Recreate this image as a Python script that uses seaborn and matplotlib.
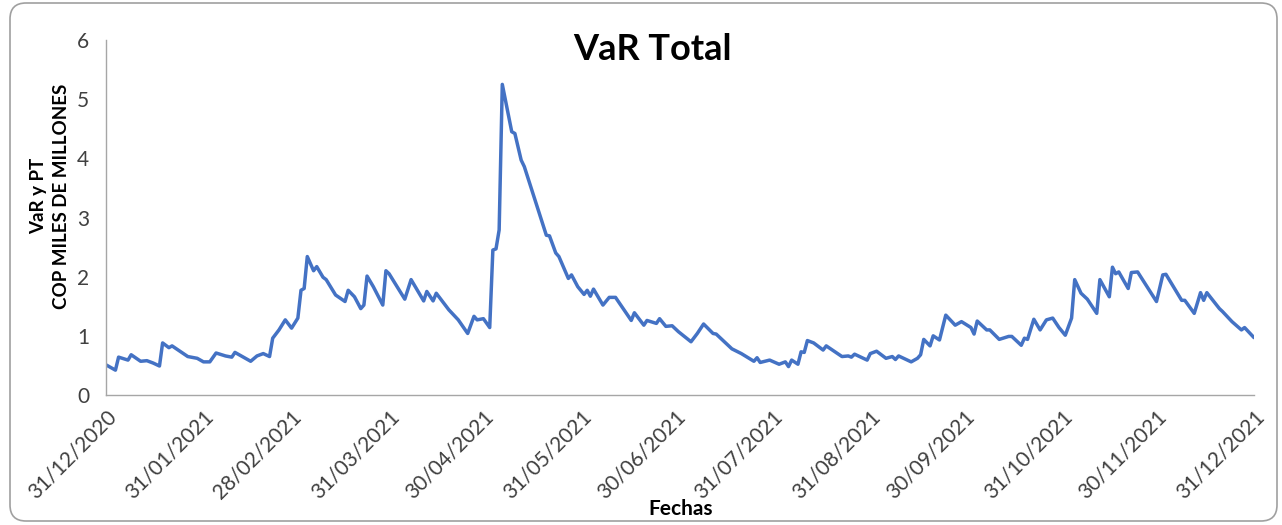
import numpy as np
import pandas as pd
import matplotlib
matplotlib.use('Agg')
import matplotlib.pyplot as plt
from matplotlib.patches import FancyBboxPatch
from matplotlib.transforms import IdentityTransform
import seaborn as sns

# ── data ──
START_DATE = '2020-12-31'
day_offset = [
    0, 3, 4, 7, 8, 11, 13, 15, 17, 18, 20, 21, 26, 29, 31, 33, 35, 38, 40, 41,
    46, 48, 50, 52, 53, 55, 57, 59, 61, 62, 63, 64, 66, 67, 69, 70, 73, 76, 77, 79,
    81, 82, 83, 85, 88, 89, 90, 95, 97, 101, 102, 104, 105, 109, 112, 115, 117, 118, 120, 122,
    123, 124, 125, 126, 129, 130, 132, 133, 140, 141, 143, 144, 147, 148, 150, 152, 153, 154, 155, 158,
    160, 162, 167, 168, 171, 172, 175, 176, 178, 180, 182, 186, 188, 190, 193, 194, 199, 202, 206, 207,
    208, 211, 214, 216, 217, 218, 220, 221, 222, 223, 225, 228, 229, 234, 236, 237, 238, 242, 243, 245,
    248, 250, 251, 252, 256, 258, 259, 260, 262, 263, 265, 267, 270, 272, 275, 276, 277, 280, 281, 284,
    287, 288, 291, 292, 293, 295, 297, 299, 301, 303, 305, 307, 308, 310, 312, 315, 316, 319, 320, 321,
    322, 325, 326, 328, 334, 336, 337, 342, 343, 346, 348, 349, 350, 354, 355, 358, 361, 362, 365,
]
var_total = [
    0.51, 0.42, 0.64, 0.59, 0.68, 0.57, 0.58, 0.54, 0.49, 0.88, 0.80, 0.83, 0.65, 0.62, 0.56, 0.56, 0.71, 0.66, 0.64, 0.72,
    0.57, 0.66, 0.70, 0.65, 0.96, 1.10, 1.27, 1.13, 1.30, 1.77, 1.80, 2.34, 2.10, 2.17, 1.99, 1.95, 1.69, 1.58, 1.77, 1.66,
    1.46, 1.52, 2.01, 1.83, 1.52, 2.10, 2.05, 1.62, 1.95, 1.59, 1.75, 1.59, 1.72, 1.44, 1.27, 1.04, 1.33, 1.27, 1.29, 1.14,
    2.45, 2.47, 2.79, 5.25, 4.45, 4.42, 3.97, 3.86, 2.70, 2.69, 2.40, 2.34, 1.97, 2.03, 1.83, 1.70, 1.77, 1.67, 1.79, 1.52,
    1.65, 1.65, 1.26, 1.39, 1.18, 1.26, 1.21, 1.29, 1.16, 1.17, 1.07, 0.90, 1.04, 1.20, 1.04, 1.03, 0.78, 0.70, 0.57, 0.63,
    0.55, 0.59, 0.52, 0.56, 0.48, 0.59, 0.52, 0.73, 0.72, 0.92, 0.88, 0.76, 0.83, 0.65, 0.66, 0.64, 0.69, 0.59, 0.70, 0.74,
    0.62, 0.65, 0.60, 0.66, 0.56, 0.62, 0.68, 0.94, 0.83, 1.00, 0.93, 1.35, 1.18, 1.24, 1.14, 1.03, 1.25, 1.10, 1.10, 0.94,
    0.99, 0.99, 0.84, 0.96, 0.94, 1.28, 1.10, 1.27, 1.30, 1.14, 1.01, 1.30, 1.95, 1.72, 1.62, 1.38, 1.95, 1.66, 2.16, 2.05,
    2.08, 1.80, 2.07, 2.08, 1.58, 2.03, 2.04, 1.60, 1.60, 1.38, 1.73, 1.60, 1.73, 1.46, 1.41, 1.24, 1.10, 1.14, 0.97,
]
tick_dates = [
    '2020-12-31', '2021-01-31', '2021-02-28', '2021-03-31', '2021-04-30', '2021-05-31',
    '2021-06-30', '2021-07-31', '2021-08-31', '2021-09-30', '2021-10-31', '2021-11-30', '2021-12-31',
]
y_ticks = [0, 1, 2, 3, 4, 5, 6]

LINE_COLOR = '#4472C4'
AXIS_COLOR = '#a6a6a6'
TICK_TEXT = '#404040'

df = pd.DataFrame({
    'Fecha': pd.Timestamp(START_DATE) + pd.to_timedelta(day_offset, unit='D'),
    'VaR': var_total,
})

sns.set_theme(style='white')
plt.rcParams['font.family'] = ['Lato', 'DejaVu Sans']

fig = plt.figure(figsize=(12.82, 5.25), dpi=100)
fig.patch.set_facecolor('white')
ax = fig.add_axes([106 / 1282, 1 - 395 / 525, (1254 - 106) / 1282, (395 - 40) / 525])

sns.lineplot(data=df, x='Fecha', y='VaR', ax=ax, color=LINE_COLOR, linewidth=2.5)

ticks = pd.to_datetime(tick_dates)
ax.set_xlim(ticks[0], ticks[-1])
ax.set_ylim(0, 6)
ax.set_xticks(ticks)
ax.set_xticklabels([t.strftime('%d/%m/%Y') for t in ticks], rotation=45,
                   ha='right', rotation_mode='anchor')
ax.set_yticks(y_ticks)

for side in ['top', 'right']:
    ax.spines[side].set_visible(False)
for side in ['left', 'bottom']:
    ax.spines[side].set_color(AXIS_COLOR)
    ax.spines[side].set_linewidth(1.0)
ax.tick_params(axis='both', direction='inout', length=12, width=1, color=AXIS_COLOR,
               labelcolor=TICK_TEXT, labelsize=15)
ax.tick_params(axis='x', pad=2)
ax.tick_params(axis='y', pad=6)

ax.set_xlabel('')
ax.set_ylabel('VaR y PT\nCOP MILES DE MILLONES', fontsize=13.5, fontweight='bold',
              color='black', linespacing=1.45)
ax.yaxis.set_label_coords(-0.031, 0.56)

fig.text(652 / 1282, 1 - 49 / 525, 'VaR Total', ha='center', va='center',
         fontsize=26, fontweight='bold', color='black')
fig.text(681 / 1282, 1 - 509 / 525, 'Fechas', ha='center', va='center',
         fontsize=15, fontweight='bold', color='black')

# rounded chart-area border
border = FancyBboxPatch((10, 4), 1267, 518, boxstyle='round,pad=0,rounding_size=16',
                        transform=IdentityTransform(), fc='none', ec='#a0a0a0', lw=1.2)
fig.add_artist(border)

plt.savefig('out.png', dpi=100, facecolor='white')
plt.close()
